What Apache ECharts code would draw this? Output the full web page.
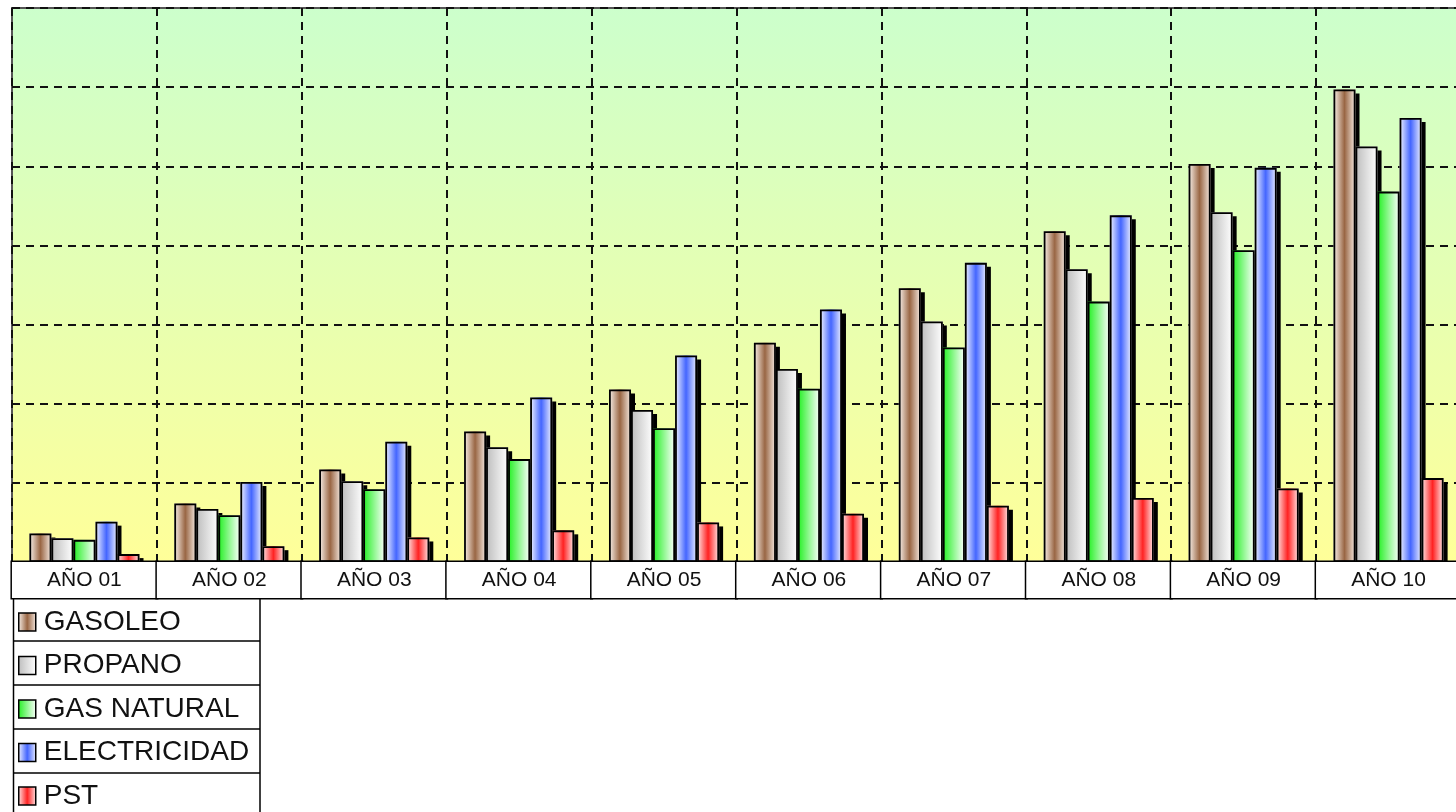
<!DOCTYPE html>
<html>
<head>
<meta charset="utf-8">
<script src="https://cdn.jsdelivr.net/npm/echarts@6/dist/echarts.min.js"></script>
<style>
html,body{margin:0;padding:0;background:#fff;}
#chart{width:1456px;height:812px;}
</style>
</head>
<body>
<div id="chart"></div>
<script>
const categories = ['AÑO 01','AÑO 02','AÑO 03','AÑO 04','AÑO 05','AÑO 06','AÑO 07','AÑO 08','AÑO 09','AÑO 10'];
const seriesNames = ['GASOLEO','PROPANO','GAS NATURAL','ELECTRICIDAD','PST'];
const gasoleo      = [3.6, 7.4, 11.7, 16.5, 21.8, 27.7, 34.6, 41.8, 50.3, 59.7];
const propano      = [3.0, 6.7, 10.2, 14.5, 19.2, 24.4, 30.4, 37.0, 44.2, 52.5];
const gasNatural   = [2.8, 5.9, 9.2, 13.0, 16.9, 21.9, 27.1, 32.9, 39.4, 46.8];
const electricidad = [5.1, 10.1, 15.2, 20.8, 26.1, 31.9, 37.8, 43.8, 49.8, 56.1];
const pst          = [1.0, 2.0, 3.1, 4.0, 5.0, 6.1, 7.1, 8.1, 9.3, 10.6];
const yTicks = [0, 10, 20, 30, 40, 50, 60, 70];

const G = echarts.graphic.LinearGradient;
const fills = [
  new G(0,0,1,0,[{offset:0,color:'#fbf4ee'},{offset:0.5,color:'#996644'},{offset:1,color:'#f7ece4'}]),
  new G(0,0,1,0,[{offset:0,color:'#bdbdbd'},{offset:1,color:'#ffffff'}]),
  new G(0,0,1,0,[{offset:0,color:'#22f022'},{offset:1,color:'#ffffff'}]),
  new G(0,0,1,0,[{offset:0,color:'#f4f6ff'},{offset:0.5,color:'#4466ff'},{offset:1,color:'#eef1ff'}]),
  new G(0,0,1,0,[{offset:0,color:'#ffeaea'},{offset:0.5,color:'#ff2222'},{offset:1,color:'#ffeaea'}])
];
const dataSets = [gasoleo, propano, gasNatural, electricidad, pst];

const chart = echarts.init(document.getElementById('chart'), null, {renderer:'canvas'});

// filled bars with drop shadow (on axis 0)
const fillSeries = seriesNames.map((name, i) => ({
  name: name,
  type: 'bar',
  xAxisIndex: 0,
  data: dataSets[i],
  barGap: '0%',
  barCategoryGap: '24%',
  itemStyle: {
    color: fills[i],
    borderWidth: 0,
    shadowColor: '#000',
    shadowBlur: 0,
    shadowOffsetX: 4,
    shadowOffsetY: 4
  },
  emphasis: {disabled: true},
  animation: false
}));
// outlines drawn over the fills (same layout on axis 1)
const outlineSeries = seriesNames.map((name, i) => ({
  name: name,
  type: 'bar',
  xAxisIndex: 1,
  data: dataSets[i],
  barGap: '0%',
  barCategoryGap: '24%',
  itemStyle: {
    color: 'rgba(0,0,0,0)',
    borderColor: '#000',
    borderWidth: 1.8
  },
  emphasis: {disabled: true},
  animation: false
}));

const lineStyle = {stroke:'#000', lineWidth:1.5};
const tableLines = [
  {type:'line', shape:{x1:13.5,y1:598,x2:13.5,y2:812}, style:lineStyle},
  {type:'line', shape:{x1:260,y1:598,x2:260,y2:812}, style:lineStyle},
  {type:'line', shape:{x1:13,y1:641,x2:260,y2:641}, style:lineStyle},
  {type:'line', shape:{x1:13,y1:685,x2:260,y2:685}, style:lineStyle},
  {type:'line', shape:{x1:13,y1:729,x2:260,y2:729}, style:lineStyle},
  {type:'line', shape:{x1:13,y1:773,x2:260,y2:773}, style:lineStyle}
];

chart.setOption({
  animation: false,
  backgroundColor: '#ffffff',
  grid: {
    left: 12, top: 8, width: 1449, height: 554,
    outerBoundsMode: 'none',
    containLabel: false,
    show: true,
    backgroundColor: new G(0,0,0,1,[{offset:0,color:'#ccffcc'},{offset:1,color:'#ffff99'}]),
    borderColor: '#555',
    borderWidth: 2
  },
  legend: {
    orient: 'vertical',
    left: 18,
    top: 607,
    padding: 0,
    itemGap: 13.5,
    itemWidth: 17,
    itemHeight: 18,
    icon: 'rect',
    selectedMode: false,
    data: seriesNames,
    itemStyle: {borderColor:'#000', borderWidth:1.5, shadowColor:'transparent', shadowOffsetX:0, shadowOffsetY:0, shadowBlur:0},
    textStyle: {fontFamily:'Liberation Sans, Arial, sans-serif', fontSize:28, lineHeight:30, color:'#111', padding:[0,0,0,3]}
  },
  xAxis: [
    {
      type: 'category', data: categories, position: 'bottom', gridIndex: 0,
      boundaryGap: true,
      axisLine: {show:false}, axisTick: {show:false}, axisLabel: {show:false},
      splitLine: {show:true, lineStyle:{color:'#111', width:2, type:[8,6]}},
      z: 0
    },
    {
      type: 'category', data: categories, position: 'bottom', gridIndex: 0,
      boundaryGap: true,
      axisLine: {show:false}, axisTick: {show:false}, splitLine: {show:false},
      axisLabel: {
        show: true, interval: 0, margin: 0,
        width: 145, height: 36, lineHeight: 36,
        align: 'center', verticalAlign: 'top',
        backgroundColor: '#ffffff', borderColor: '#000', borderWidth: 1.5,
        fontFamily: 'Liberation Sans, Arial, sans-serif', fontSize: 21, color: '#111'
      },
      z: 10
    }
  ],
  yAxis: {
    type: 'value', min: yTicks[0], max: yTicks[yTicks.length-1], interval: 10,
    axisLine: {show:false}, axisTick: {show:false}, axisLabel: {show:false},
    splitLine: {show:true, lineStyle:{color:'#111', width:2, type:[8,6]}}
  },
  series: fillSeries.concat(outlineSeries),
  graphic: tableLines
});
</script>
</body>
</html>
